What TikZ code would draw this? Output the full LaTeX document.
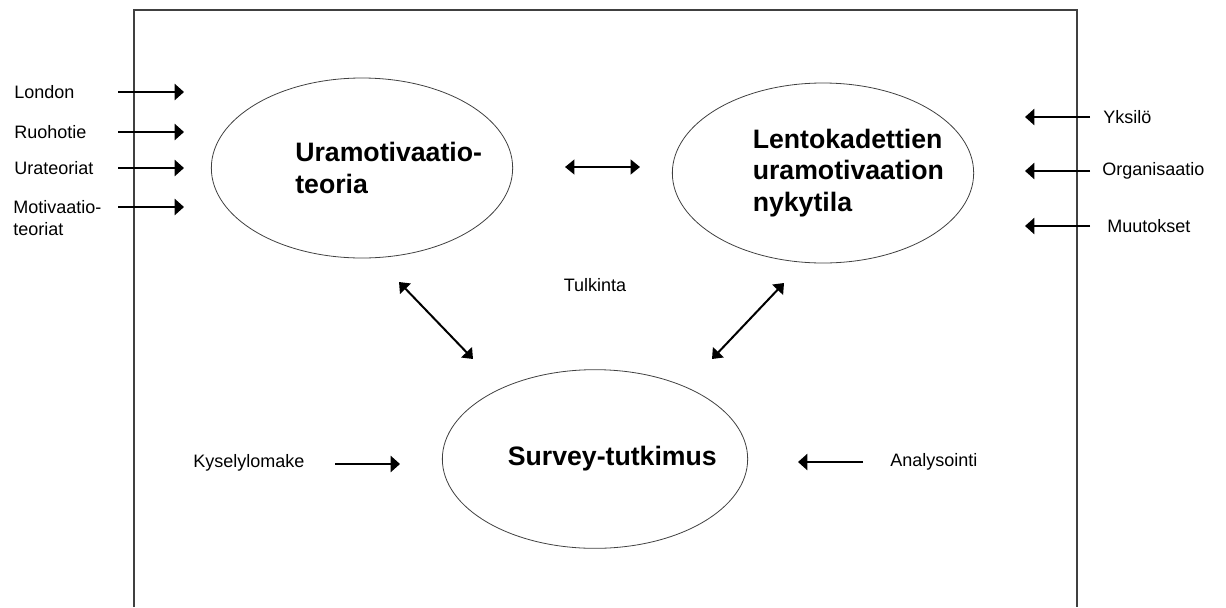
\documentclass[tikz,border=0pt]{standalone}
\usepackage{fontspec}
\setmainfont{Liberation Sans}
\usetikzlibrary{arrows.meta, positioning, shapes.geometric}

\tikzset{
  bubble/.style={draw=black!75, line width=0.6pt, ellipse, minimum width=226pt, minimum height=135pt, inner sep=0pt},
  title/.style={font=\bfseries\fontsize{20}{23.5}\selectfont, align=left, inner sep=0pt},
  source/.style={font=\fontsize{13.5}{16.5}\selectfont, align=left, inner sep=0pt, anchor=west},
  feed/.style={line width=1.9pt, -{Triangle[length=7pt, width=12pt]}},
  link/.style={line width=1.5pt, {Triangle[length=7pt, width=11pt]}-{Triangle[length=7pt, width=11pt]}}
}

\begin{document}
\begin{tikzpicture}[x=0.75pt, y=-0.75pt]
      \useasboundingbox (0,0) rectangle (1226,607);

      % Frame (open at the bottom)
      \draw[black!75, line width=1.6pt] (134,607) -- (134,10) -- (1077,10) -- (1077,607);

      % Ellipses
      \node[bubble] (teoria) at (362,168) {};
      \node[title] (teoriatext) at ([xshift=20]teoria.center) {Uramotivaatio-\\teoria};

      \node[bubble] (nykytila) at (823,173) {};
      \node[title] (nykytilatext) at ([xshift=19]nykytila.center) {Lentokadettien\\uramotivaation\\nykytila};

      \node[bubble, minimum width=229pt, minimum height=134pt] (survey) at (595,459) {};
      \node[title] (surveytext) at ([xshift=13]survey.center) {Survey-tutkimus};

      % Inputs on the left
      \foreach \name/\y in {London/92, Ruohotie/132, Urateoriat/168} {
        \node[source] (src-\name) at (14,\y) {\name};
        \coordinate (from-\name) at (118,\y);
        \coordinate (to-\name) at (184,\y);
        \draw[feed] (from-\name) -- (to-\name);
      }
      \node[source] (src-motiv) at (13,218) {Motivaatio-\\teoriat};
      \coordinate (from-motiv) at (118,207);
      \coordinate (to-motiv) at (184,207);
      \draw[feed] (from-motiv) -- (to-motiv);

      % Inputs on the right
      \foreach \name/\x/\y in {Yksilö/1103/117, Organisaatio/1102/171, Muutokset/1107/226} {
        \node[source] (src-\name) at (\x,\y) {\name};
        \coordinate (from-\name) at (1090,\y);
        \coordinate (to-\name) at (1025,\y);
        \draw[feed] (from-\name) -- (to-\name);
      }

      % Between the ellipses
      \coordinate (mid-a) at (565,167);
      \coordinate (mid-b) at (640,167);
      \draw[link] (mid-a) -- (mid-b);

      \node (tulkinta) at (595,285) [font=\fontsize{13.5}{16.5}\selectfont, inner sep=0pt] {Tulkinta};
      \coordinate (diag-a) at (399,282);
      \coordinate (diag-b) at (473,359);
      \draw[link] (diag-a) -- (diag-b);
      \coordinate (diag-c) at (784,283);
      \coordinate (diag-d) at (712,359);
      \draw[link] (diag-c) -- (diag-d);

      % Inputs to the survey
      \node[source] (kysely) at (193,463) {Kyselylomake};
      \coordinate (kysely-a) at (335,464);
      \coordinate (kysely-b) at (400,464);
      \draw[feed] (kysely-a) -- (kysely-b);

      \node[source] (analyysi) at (890,462) {Analysointi};
      \coordinate (analyysi-a) at (863,462);
      \coordinate (analyysi-b) at (798,462);
      \draw[feed] (analyysi-a) -- (analyysi-b);
    \end{tikzpicture}
\end{document}
